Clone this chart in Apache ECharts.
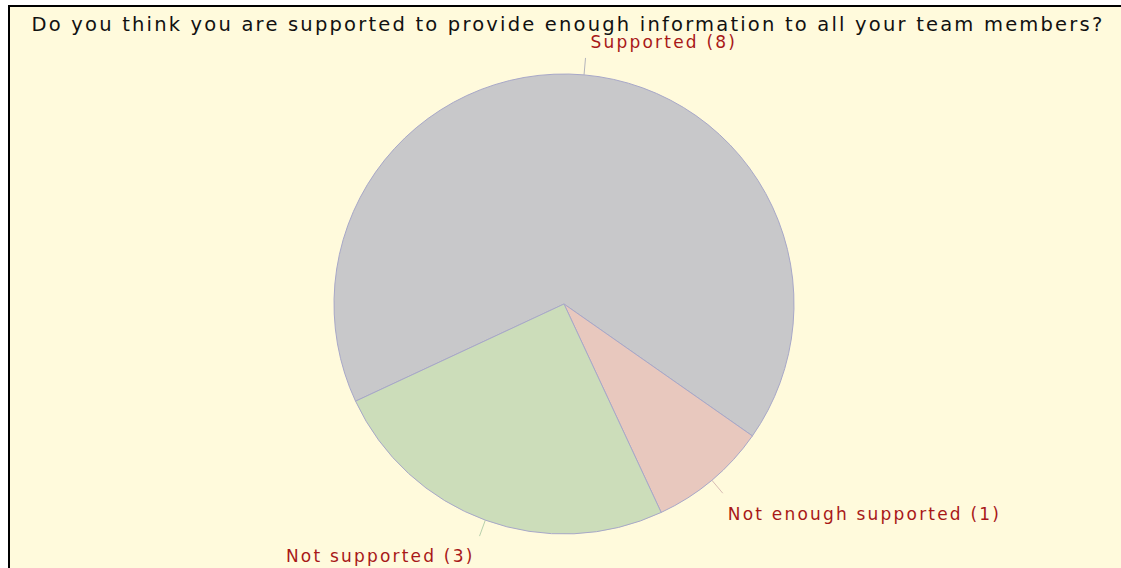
<!DOCTYPE html>
<html>
<head>
<meta charset="utf-8">
<script src="https://cdn.jsdelivr.net/npm/echarts@6/dist/echarts.min.js"></script>
<style>
  html, body { margin: 0; padding: 0; background: #ffffff; width: 1121px; height: 568px; overflow: hidden; }
  #frame { position: absolute; left: 8px; top: 5px; width: 1130px; height: 580px;
           border-left: 2px solid #000; border-top: 2px solid #000; background: #FFFADC; }
  #chart { position: absolute; left: 0; top: 0; width: 1121px; height: 568px; }
  #chart text { letter-spacing: 2.2px; }
</style>
</head>
<body>
<div id="frame"></div>
<div id="chart"></div>
<script>
const titleText = 'Do you think you are supported to provide enough information to all your team members?';
const categories = ['Supported', 'Not enough supported', 'Not supported'];
const values = [8, 1, 3];
const sliceColors = ['#C8C8CA', '#E8C8BE', '#CCDDBA'];
const lineColors = ['#B4B4BC', '#D8BCB4', '#B8D0AC'];
// label text above (up) or below (down) its leader line end
const labelSide = ['up', 'down', 'down'];
const labelLineHeights = [32, 42, 40];

const chart = echarts.init(document.getElementById('chart'), null, { renderer: 'svg' });
chart.setOption({
  backgroundColor: 'transparent',
  animation: false,
  title: {
    text: titleText,
    left: 563,
    top: 9,
    textAlign: 'center',
    textStyle: { fontFamily: 'DejaVu Sans', fontSize: 19.5, fontWeight: 'normal', color: '#111111' }
  },
  series: [{
    type: 'pie',
    center: [564, 304],
    radius: 230,
    startAngle: 205,
    clockwise: true,
    avoidLabelOverlap: false,
    emphasis: { disabled: true },
    itemStyle: { borderColor: '#A8A8C8', borderWidth: 1 },
    label: {
      show: true,
      position: 'outside',
      fontFamily: 'DejaVu Sans',
      fontSize: 17,
      color: '#A81818',
      distanceToLabelLine: 5
    },
    labelLine: { show: true, length: 17, length2: 0, smooth: false, lineStyle: { width: 1 } },
    data: categories.map((name, i) => ({
      name: name,
      value: values[i],
      itemStyle: { color: sliceColors[i] },
      label: {
        lineHeight: labelLineHeights[i],
        formatter: labelSide[i] === 'up' ? '{b} ({c})\n ' : ' \n{b} ({c})'
      },
      labelLine: { lineStyle: { color: lineColors[i] } }
    }))
  }]
});
</script>
</body>
</html>
